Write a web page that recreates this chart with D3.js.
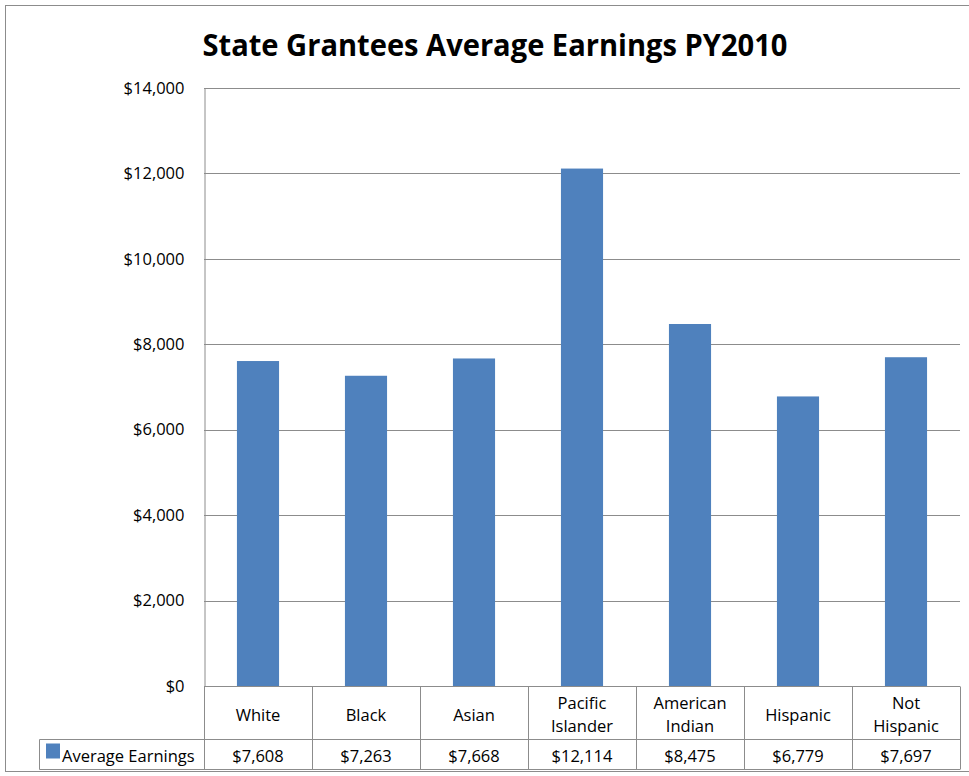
<!DOCTYPE html>
<html>
<head>
<meta charset="utf-8">
<script src="https://cdn.jsdelivr.net/npm/d3@7"></script>
<style>
  body { margin: 0; background: #fff; }
  svg { display: block; }
  text { font-family: "Open Sans", "Liberation Sans", sans-serif; fill: #000; }
</style>
</head>
<body>
<script>
const categories = ["White", "Black", "Asian", "Pacific Islander", "American Indian", "Hispanic", "Not Hispanic"];
const catLines = [["White"], ["Black"], ["Asian"], ["Pacific", "Islander"], ["American", "Indian"], ["Hispanic"], ["Not", "Hispanic"]];
const earnings = [7608, 7263, 7668, 12114, 8475, 6779, 7697];
const yTicks = [0, 2000, 4000, 6000, 8000, 10000, 12000, 14000];
const seriesName = "Average Earnings";

const width = 969, height = 776;
const plot = { left: 204, right: 960, top: 88, bottom: 686 };
const rowCat = 53, rowVal = 30;
const gray = "#8c8c8c";
const barColor = "#4f81bd";
const fs = "16.5px";

const svg = d3.select("body").append("svg")
    .attr("width", width)
    .attr("height", height);

// outer chart border
svg.append("rect")
    .attr("x", 5.5).attr("y", 5.5)
    .attr("width", width + 10).attr("height", height - 10)
    .attr("fill", "none").attr("stroke", gray);

svg.append("text")
    .attr("x", 495).attr("y", 56)
    .attr("text-anchor", "middle")
    .attr("textLength", 585)
    .attr("lengthAdjust", "spacingAndGlyphs")
    .style("font-family", "'Open Sans', sans-serif")
    .style("font-weight", "bold")
    .style("font-size", "31px")
    .text("State Grantees Average Earnings PY2010");

const x = d3.scaleBand().domain(categories).range([plot.left, plot.right]).padding(0);
const y = d3.scaleLinear().domain([0, 14000]).range([plot.bottom, plot.top]);
const fmt = v => "$" + d3.format(",")(v);

// gridlines
svg.append("g").selectAll("line")
    .data(yTicks)
    .join("line")
    .attr("x1", plot.left).attr("x2", plot.right)
    .attr("y1", d => Math.round(y(d)) + 0.5).attr("y2", d => Math.round(y(d)) + 0.5)
    .attr("stroke", gray);

// y axis
const yAxis = svg.append("g")
    .attr("transform", `translate(${plot.left + 0.5},0)`)
    .call(d3.axisLeft(y).tickValues(yTicks).tickFormat(fmt).tickSize(0).tickPadding(20));
yAxis.select(".domain").attr("stroke", gray);
yAxis.selectAll("text").style("font-size", fs).style("font-family", "'Open Sans', sans-serif");

// bars
const barW = x.bandwidth() * 0.39;
svg.append("g").selectAll("rect")
    .data(earnings)
    .join("rect")
    .attr("x", (d, i) => x(categories[i]) + (x.bandwidth() - barW) / 2)
    .attr("y", d => y(d))
    .attr("width", barW)
    .attr("height", d => y(0) - y(d))
    .attr("fill", barColor);

// data table
const table = svg.append("g");
const tTop = plot.bottom + 0.5, tMid = tTop + rowCat, tBot = tMid + rowVal;
const legendLeft = 39.5;

table.append("line").attr("x1", legendLeft).attr("x2", plot.right)
    .attr("y1", tMid).attr("y2", tMid).attr("stroke", gray);
table.append("line").attr("x1", legendLeft).attr("x2", plot.right)
    .attr("y1", tBot).attr("y2", tBot).attr("stroke", gray);
table.append("line").attr("x1", legendLeft).attr("x2", legendLeft)
    .attr("y1", tMid).attr("y2", tBot).attr("stroke", gray);

const edges = categories.map(c => x(c)).concat([plot.right]);
table.selectAll("line.v")
    .data(edges)
    .join("line")
    .attr("class", "v")
    .attr("x1", d => Math.round(d) + 0.5).attr("x2", d => Math.round(d) + 0.5)
    .attr("y1", tTop).attr("y2", tBot)
    .attr("stroke", gray);

catLines.forEach((lines, i) => {
    const cx = x(categories[i]) + x.bandwidth() / 2;
    const t = table.append("text")
        .attr("x", cx)
        .attr("text-anchor", "middle")
        .style("font-size", fs);
    const y0 = lines.length === 1 ? tTop + 34 : tTop + 22;
    lines.forEach((ln, j) => {
        t.append("tspan").attr("x", cx).attr("y", y0 + j * 23).text(ln);
    });
    table.append("text")
        .attr("x", cx).attr("y", tMid + 22)
        .attr("text-anchor", "middle")
        .style("font-size", fs)
        .text(fmt(earnings[i]));
});

// legend key
table.append("rect")
    .attr("x", 46).attr("y", tMid + 4)
    .attr("width", 14).attr("height", 15)
    .attr("fill", barColor);
table.append("text")
    .attr("x", 62).attr("y", tMid + 22)
    .style("font-size", fs)
    .text(seriesName);
</script>
</body>
</html>
